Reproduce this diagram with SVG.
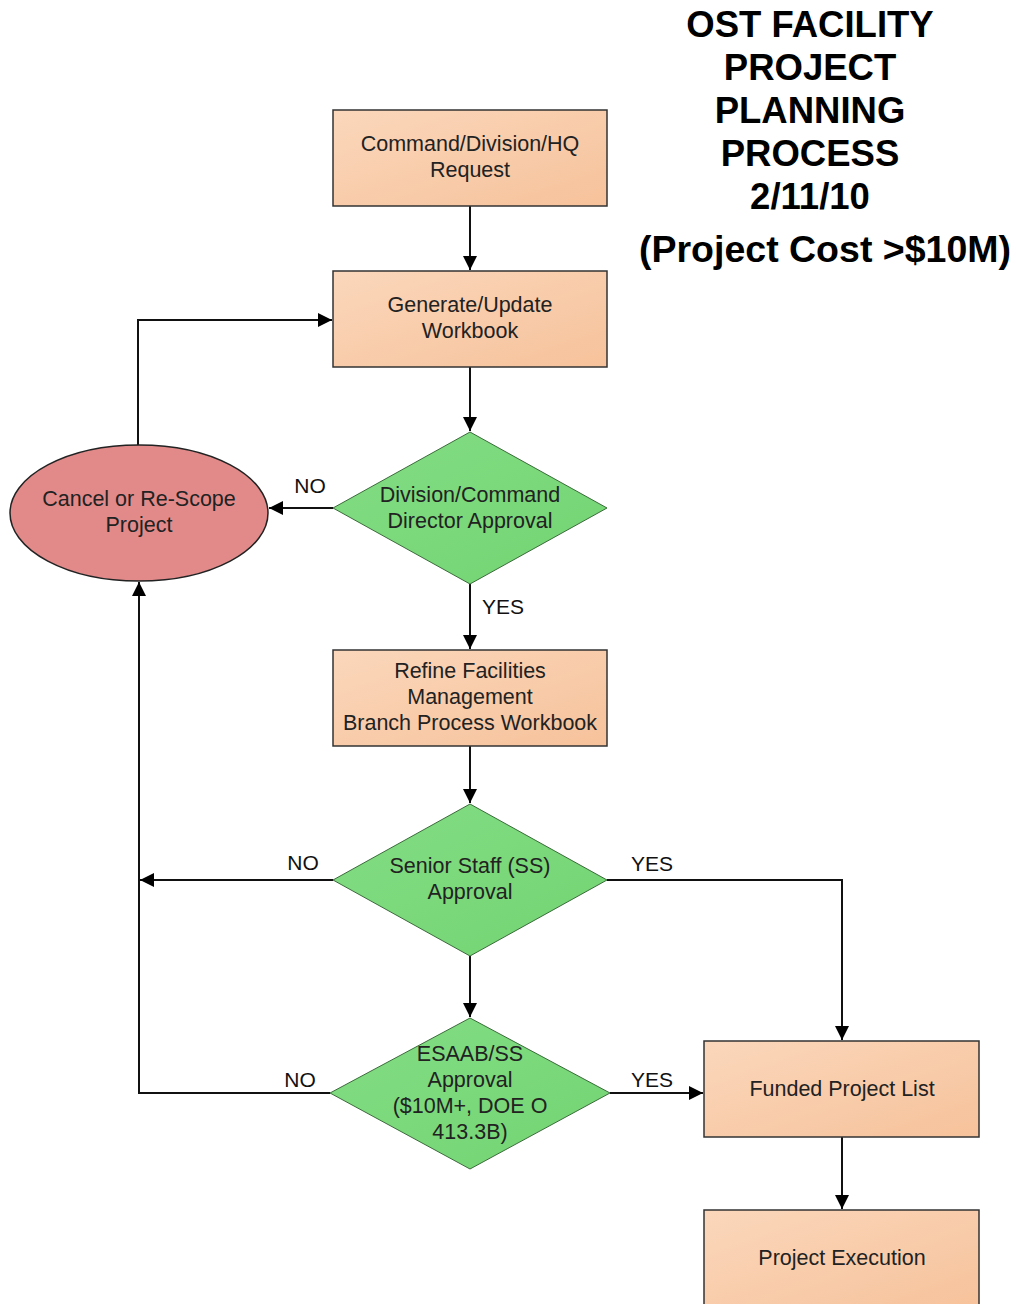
<svg xmlns="http://www.w3.org/2000/svg" width="1016" height="1304" viewBox="0 0 1016 1304">
<defs>
<linearGradient id="peach" x1="0" y1="0" x2="1" y2="1">
<stop offset="0" stop-color="#fbd7bb"/>
<stop offset="1" stop-color="#f6c29b"/>
</linearGradient>
<linearGradient id="green" x1="0" y1="0" x2="1" y2="1">
<stop offset="0" stop-color="#84dd84"/>
<stop offset="1" stop-color="#72d472"/>
</linearGradient>
<marker id="arr" viewBox="0 0 10 10" refX="10" refY="5" markerWidth="14" markerHeight="14" markerUnits="userSpaceOnUse" orient="auto">
<path d="M0,0 L10,5 L0,10 z" fill="#000"/>
</marker>
<style>
.box{fill:url(#peach);stroke:#333;stroke-width:1.5}
.dia{fill:url(#green);stroke:#3a6a3a;stroke-width:1}
.t{font-family:"Liberation Sans",Arial,sans-serif;font-size:21.5px;fill:#222;text-anchor:middle}
.lbl{font-family:"Liberation Sans",Arial,sans-serif;font-size:21px;fill:#111;text-anchor:middle}
.title{font-family:"Liberation Sans",Arial,sans-serif;font-weight:bold;font-size:36.5px;fill:#000;text-anchor:middle}
.c{fill:none;stroke:#111;stroke-width:2;marker-end:url(#arr)}
</style>
</defs>
<rect width="1016" height="1304" fill="#fff"/>
<g id="title">
<text class="title" x="810" y="37">OST FACILITY</text>
<text class="title" x="810" y="80">PROJECT</text>
<text class="title" x="810" y="123">PLANNING</text>
<text class="title" x="810" y="166">PROCESS</text>
<text class="title" x="810" y="209">2/11/10</text>
<text class="title" x="825" y="262" style="font-size:37.5px">(Project Cost &gt;$10M)</text>
</g>
<g id="connectors">
<path class="c" d="M470,206 L470,270"/>
<path class="c" d="M470,367 L470,431"/>
<path class="c" d="M333,508 L269,508"/>
<path class="c" d="M138,445 L138,320 L332,320"/>
<path class="c" d="M470,584 L470,649"/>
<path class="c" d="M470,746 L470,803"/>
<path class="c" d="M333,880 L140,880"/>
<path class="c" d="M607,880 L842,880 L842,1040"/>
<path class="c" d="M470,956 L470,1017"/>
<path class="c" d="M330,1093 L139,1093 L139,582"/>
<path class="c" d="M610,1093 L703,1093"/>
<path class="c" d="M842,1137 L842,1209"/>
<text class="lbl" x="310" y="493">NO</text>
<text class="lbl" x="503" y="614">YES</text>
<text class="lbl" x="303" y="870">NO</text>
<text class="lbl" x="652" y="871">YES</text>
<text class="lbl" x="300" y="1087">NO</text>
<text class="lbl" x="652" y="1087">YES</text>
</g>
<g id="request">
<rect class="box" x="333" y="110" width="274" height="96"/>
<text class="t" x="470" y="151">Command/Division/HQ</text>
<text class="t" x="470" y="177">Request</text>
</g>
<g id="workbook">
<rect class="box" x="333" y="271" width="274" height="96"/>
<text class="t" x="470" y="312">Generate/Update</text>
<text class="t" x="470" y="338">Workbook</text>
</g>
<g id="director">
<polygon class="dia" points="470,432 607,508 470,584 333,508"/>
<text class="t" x="470" y="502">Division/Command</text>
<text class="t" x="470" y="528">Director Approval</text>
</g>
<g id="cancel">
<ellipse cx="139" cy="513" rx="129" ry="68" fill="#e28a8a" stroke="#222" stroke-width="1.5"/>
<text class="t" x="139" y="506">Cancel or Re-Scope</text>
<text class="t" x="139" y="532">Project</text>
</g>
<g id="refine">
<rect class="box" x="333" y="650" width="274" height="96"/>
<text class="t" x="470" y="678">Refine Facilities</text>
<text class="t" x="470" y="704">Management</text>
<text class="t" x="470" y="730">Branch Process Workbook</text>
</g>
<g id="ss">
<polygon class="dia" points="470,804 607,880 470,956 333,880"/>
<text class="t" x="470" y="873">Senior Staff (SS)</text>
<text class="t" x="470" y="899">Approval</text>
</g>
<g id="esaab">
<polygon class="dia" points="470,1018 610,1093 470,1169 330,1093"/>
<text class="t" x="470" y="1061">ESAAB/SS</text>
<text class="t" x="470" y="1087">Approval</text>
<text class="t" x="470" y="1113">($10M+, DOE O</text>
<text class="t" x="470" y="1139">413.3B)</text>
</g>
<g id="funded">
<rect class="box" x="704" y="1041" width="275" height="96"/>
<text class="t" x="842" y="1096">Funded Project List</text>
</g>
<g id="execution">
<rect class="box" x="704" y="1210" width="275" height="100"/>
<text class="t" x="842" y="1265">Project Execution</text>
</g>
</svg>
